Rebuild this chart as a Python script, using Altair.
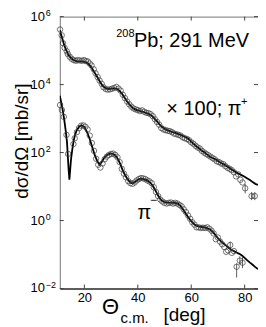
import altair as alt
import pandas as pd
import numpy as np

# ---------------- data (log10 of dσ/dΩ in mb/sr) ----------------
# pi+ (x100) theory curve
pip_curve_theta = [10.8, 11.5, 12, 12.5, 13, 13.5, 14, 15, 16, 17, 18, 19, 20, 21, 22, 23, 24, 25, 26, 27,
                   28, 29, 30, 31, 32, 33, 34, 35, 36, 37, 38, 39, 40, 41, 42, 43, 44, 45, 46, 47,
                   48, 49, 50, 51, 52, 53, 54, 55, 56, 57, 58, 59, 60, 61, 62, 63, 64, 65, 66, 67,
                   68, 69, 70, 71, 72, 73, 74, 75, 76, 77, 78, 79, 80, 81, 82, 83, 84, 85]
pip_curve_log = [5.60, 5.42, 5.28, 5.15, 5.05, 4.96, 4.88, 4.78, 4.72, 4.69, 4.68, 4.68, 4.67, 4.64, 4.57, 4.46, 4.33, 4.20, 4.06, 3.95,
                 3.89, 3.87, 3.88, 3.89, 3.88, 3.83, 3.74, 3.62, 3.50, 3.40, 3.32, 3.27, 3.24, 3.22, 3.20, 3.17, 3.14, 3.10, 3.02, 2.93,
                 2.84, 2.76, 2.70, 2.66, 2.63, 2.60, 2.58, 2.55, 2.52, 2.48, 2.45, 2.40, 2.32, 2.25, 2.18, 2.12, 2.05, 2.00, 1.94, 1.88,
                 1.84, 1.80, 1.75, 1.70, 1.66, 1.62, 1.56, 1.51, 1.46, 1.41, 1.37, 1.33, 1.29, 1.24, 1.19, 1.13, 1.08, 1.05]

# pi- theory curve
pim_curve_theta = [10.8, 11.5, 12, 12.5, 13, 13.5, 13.8, 14.1, 14.4, 14.7, 15, 15.5, 16, 16.5, 17, 18, 19, 20, 21, 22,
                   23, 24, 25, 25.7, 26.5, 27.5, 28.5, 29.5, 30.5, 31.5, 32.5, 33.5, 34.5, 35.5, 36.5, 37.5, 38.5, 39.5, 40.5, 41.5,
                   42.5, 43.5, 44.5, 45.5, 46.5, 47.5, 48.5, 49.5, 50.5, 52, 54, 55, 56, 57, 58, 59, 60, 61, 62, 63,
                   64, 65, 66, 67, 68, 69, 70, 71, 72, 73, 74, 75, 76, 77, 78, 79, 80, 81, 82, 83, 84, 85]
pim_curve_log = [3.67, 3.42, 3.20, 2.95, 2.65, 2.30, 1.90, 1.50, 1.20, 1.50, 1.80, 2.10, 2.35, 2.52, 2.63, 2.76, 2.80, 2.75, 2.60, 2.40,
                 2.15, 1.90, 1.72, 1.64, 1.72, 1.85, 1.93, 1.97, 1.97, 1.92, 1.82, 1.65, 1.45, 1.30, 1.18, 1.10, 1.11, 1.17, 1.22, 1.23,
                 1.21, 1.18, 1.13, 1.04, 0.90, 0.75, 0.62, 0.56, 0.53, 0.53, 0.52, 0.50, 0.43, 0.32, 0.20, 0.08, -0.02, -0.10, -0.15, -0.18,
                 -0.19, -0.20, -0.22, -0.26, -0.33, -0.42, -0.52, -0.60, -0.67, -0.73, -0.80, -0.86, -0.90, -0.94, -0.98, -1.03, -1.10, -1.17, -1.24, -1.30, -1.37, -1.43]

# pi+ (x100) measured points
pip_pts_theta = [10.9, 11.5, 12.0, 12.6, 13.4, 13.8, 14.5, 15.2, 16.0, 16.8, 17.5, 18.3, 19.1, 19.9, 20.6, 21.3, 22.0, 22.7, 23.5, 24.2,
                 25.0, 25.7, 26.5, 27.2, 28.0, 28.8, 29.6, 30.4, 31.2, 32.0, 32.8, 33.6, 34.4, 35.2, 36.0, 36.8, 37.6, 38.4, 39.2, 40.0,
                 40.8, 41.6, 42.4, 43.2, 44.0, 44.8, 45.6, 46.4, 47.2, 48.0, 48.8, 49.6, 50.4, 51.2, 52.0, 52.8, 53.6, 54.4, 55.2, 56.0,
                 56.8, 57.6, 58.4, 59.2, 60.0, 60.8, 61.6, 62.4, 63.2, 64.0, 64.8, 65.6, 66.4, 67.2, 68.0, 68.8, 69.6, 70.4, 71.2, 72.0,
                 72.8, 73.6, 74.4, 75.2, 76.0, 76.8, 77.6, 78.4, 79.2]
pip_pts_log = [5.62, 5.45, 5.22, 5.08, 4.98, 4.90, 4.82, 4.76, 4.72, 4.70, 4.72, 4.71, 4.70, 4.72, 4.69, 4.68, 4.62, 4.56, 4.45, 4.33,
               4.22, 4.12, 4.02, 3.92, 3.87, 3.85, 3.86, 3.88, 3.90, 3.93, 3.88, 3.82, 3.70, 3.60, 3.50, 3.42, 3.35, 3.30, 3.27, 3.25,
               3.22, 3.24, 3.20, 3.17, 3.16, 3.13, 3.07, 2.98, 2.90, 2.82, 2.72, 2.68, 2.66, 2.64, 2.63, 2.60, 2.56, 2.54, 2.52, 2.50,
               2.45, 2.42, 2.40, 2.36, 2.30, 2.26, 2.20, 2.15, 2.12, 2.05, 2.00, 1.96, 1.92, 1.88, 1.84, 1.80, 1.74, 1.72, 1.68, 1.66,
               1.60, 1.55, 1.52, 1.48, 1.42, 1.30, 1.36, 1.20, 1.12]
# pi+ points with error bars
pip_err_theta = [80.2, 82.6, 83.8]
pip_err_log = [0.95, 0.72, 0.72]
pip_err_lo = [0.80, 0.60, 0.60]
pip_err_hi = [1.08, 0.84, 0.84]

# pi- measured points
pim_pts_theta = [10.9, 11.6, 12.3, 13.3, 13.9, 15.9, 16.4, 17.2, 18.0, 18.8, 19.6, 20.4, 21.2, 22.0, 22.8, 23.6, 24.4, 25.2, 26.0, 26.8,
                 27.6, 28.4, 29.2, 30.0, 30.8, 31.6, 32.4, 33.2, 34.0, 34.8, 35.6, 36.4, 37.2, 38.0, 38.8, 39.6, 40.4, 41.2, 42.0, 42.8,
                 43.6, 44.4, 45.2, 46.0, 46.8, 47.6, 48.4, 49.2, 50.0, 50.8, 51.6, 52.4, 53.2, 54.0, 54.8, 55.6, 56.4, 57.2, 58.0, 58.8,
                 59.6, 60.4, 61.2, 62.0, 62.8, 63.6, 64.4, 65.2, 66.0, 66.8, 67.6, 68.4, 69.2, 70.0, 70.8, 71.6, 72.4, 73.1, 73.8, 75.2, 76.0]
pim_pts_log = [3.40, 3.25, 3.05, 2.52, 1.96, 2.25, 2.42, 2.60, 2.72, 2.79, 2.80, 2.76, 2.68, 2.50, 2.28, 2.05, 1.82, 1.64, 1.56, 1.68,
               1.80, 1.88, 1.93, 1.96, 1.97, 1.93, 1.86, 1.72, 1.52, 1.38, 1.27, 1.16, 1.10, 1.08, 1.12, 1.18, 1.22, 1.25, 1.24, 1.22,
               1.18, 1.15, 1.10, 0.98, 0.84, 0.72, 0.62, 0.56, 0.52, 0.50, 0.52, 0.53, 0.50, 0.52, 0.50, 0.46, 0.42, 0.33, 0.25, 0.15,
               0.05, -0.05, -0.12, -0.20, -0.20, -0.22, -0.21, -0.22, -0.20, -0.24, -0.30, -0.38, -0.55, -0.50, -0.62, -0.70, -0.78, -0.92, -0.88, -0.95, -0.90]
# pi- points with error bars
pim_err_theta = [74.6, 77.0, 78.2, 79.2]
pim_err_log = [-0.72, -1.36, -1.18, -1.24]
pim_err_lo = [-0.82, -1.68, -1.30, -1.40]
pim_err_hi = [-0.62, -1.26, -1.05, -1.05]

x_ticks = [20, 40, 60, 80]
y_tick_exp = [-2, 0, 2, 4, 6]
y_tick_exp_label = ["\u22122", "0", "2", "4", "6"]

# ---------------- tables ----------------
curves = pd.concat([
    pd.DataFrame({"theta": pip_curve_theta, "val": 10.0 ** np.array(pip_curve_log), "s": "pip"}),
    pd.DataFrame({"theta": pim_curve_theta, "val": 10.0 ** np.array(pim_curve_log), "s": "pim"}),
])
points = pd.concat([
    pd.DataFrame({"theta": pip_pts_theta, "val": 10.0 ** np.array(pip_pts_log)}),
    pd.DataFrame({"theta": pim_pts_theta, "val": 10.0 ** np.array(pim_pts_log)}),
    pd.DataFrame({"theta": pip_err_theta, "val": 10.0 ** np.array(pip_err_log)}),
    pd.DataFrame({"theta": pim_err_theta, "val": 10.0 ** np.array(pim_err_log)}),
])
errs = pd.concat([
    pd.DataFrame({"theta": pip_err_theta, "lo": 10.0 ** np.array(pip_err_lo), "hi": 10.0 ** np.array(pip_err_hi)}),
    pd.DataFrame({"theta": pim_err_theta, "lo": 10.0 ** np.array(pim_err_lo), "hi": 10.0 ** np.array(pim_err_hi)}),
])
xt = pd.DataFrame({"t": x_ticks})
yt = pd.DataFrame({"v": 10.0 ** np.array(y_tick_exp, dtype=float), "e": y_tick_exp_label})
one = pd.DataFrame({"k": [0]})

W, H = 199, 273
FONT = "Liberation Sans"
xscale = alt.Scale(domain=[10.8, 85], nice=False, zero=False)
yscale = alt.Scale(type="log", domain=[1e-2, 1e6], nice=False)
xaxis = alt.Axis(values=x_ticks, ticks=False, grid=False, domain=True, domainColor="black", domainWidth=1.2,
                 labelFont=FONT, labelFontSize=13, labelColor="black", labelPadding=3, title=None)

X = alt.X("theta:Q", scale=xscale, axis=xaxis)
Y = alt.Y("val:Q", scale=yscale, axis=None)

lines = alt.Chart(curves).mark_line(color="black", strokeWidth=1.8, clip=True).encode(
    x=X, y=Y, detail="s:N")
pts = alt.Chart(points).mark_point(shape="circle", filled=False, size=30, color="#3a3a3a",
                                   strokeWidth=0.7, opacity=1).encode(x=X, y=Y)
bars = alt.Chart(errs).mark_rule(color="#3a3a3a", strokeWidth=0.8).encode(
    x=X, y=alt.Y("lo:Q", scale=yscale, axis=None), y2="hi:Q")

tick_col = "#444"
xt_bot = alt.Chart(xt).mark_rule(color=tick_col).encode(
    x=alt.X("t:Q", scale=xscale, axis=xaxis), y=alt.value(H), y2=alt.value(H - 4))
xt_top = alt.Chart(xt).mark_rule(color=tick_col).encode(
    x=alt.X("t:Q", scale=xscale, axis=xaxis), y=alt.value(0), y2=alt.value(4))
yt_left = alt.Chart(yt).mark_rule(color=tick_col).encode(
    y=alt.Y("v:Q", scale=yscale, axis=None), x=alt.value(0), x2=alt.value(4))
yt_right = alt.Chart(yt).mark_rule(color=tick_col).encode(
    y=alt.Y("v:Q", scale=yscale, axis=None), x=alt.value(W), x2=alt.value(W - 4))

ylab10 = alt.Chart(yt).mark_text(text="10", font=FONT, fontSize=13, align="right", baseline="middle",
                                 color="black").encode(y=alt.Y("v:Q", scale=yscale, axis=None), x=alt.value(-15))
ylabexp = alt.Chart(yt).mark_text(font=FONT, fontSize=9, align="left", baseline="middle", dy=-4,
                                  color="black").encode(y=alt.Y("v:Q", scale=yscale, axis=None),
                                                        x=alt.value(-14), text="e:N")


def label(txt, x, y, size, align="left", angle=0):
    return alt.Chart(one).mark_text(text=txt, font=FONT, fontSize=size, align=align, baseline="middle",
                                    angle=angle, color="black").encode(x=alt.value(x), y=alt.value(y))


annots = [
    label("208", 75, 17, 11, align="right"),
    label("Pb; 291 MeV", 190, 25, 20, align="right"),
    label("\u00d7 100; \u03c0", 107, 93, 20),
    label("+", 182, 86, 11),
    label("\u03c0", 78, 197, 20),
    label("\u2212", 91, 184, 12),
    label("\u0398", 51, 292, 22, align="center"),
    label("c.m.", 61, 303, 15),
    label("[deg]", 104, 300, 19),
    label("d\u03c3/d\u03a9 [mb/sr]", -38, 125, 19, align="center", angle=270),
]

chart = alt.layer(lines, pts, bars, xt_bot, xt_top, yt_left, yt_right, ylab10, ylabexp, *annots).properties(
    width=W, height=H,
    autosize=alt.AutoSizeParams(type="none"),
    padding={"left": 52, "top": 8, "right": 0, "bottom": 37},
).configure_view(stroke="#777", strokeWidth=1)

chart.save("out.html", embed_options={"renderer": "svg", "actions": False})
